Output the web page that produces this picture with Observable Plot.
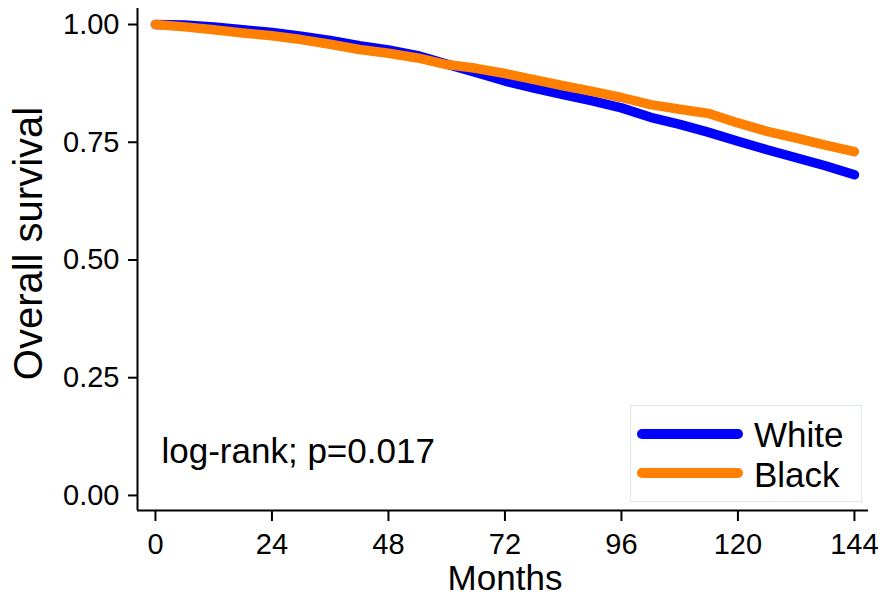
<!DOCTYPE html>
<html><head><meta charset="utf-8">
<script src="https://cdn.jsdelivr.net/npm/d3@7"></script>
<script src="https://cdn.jsdelivr.net/npm/@observablehq/plot@0.6"></script>
<style>
body{margin:0;background:#fff;font-family:"Liberation Sans",Arial,sans-serif;}
#wrap{position:relative;width:886px;height:598px;}
#legend{position:absolute;left:630px;top:405px;width:232px;height:97px;border:1px solid #dce8ea;box-sizing:border-box;background:#fff;}
.lline{position:absolute;left:6px;width:106px;height:10px;border-radius:5px;}
.ltext{position:absolute;left:123px;font-size:35px;line-height:35px;color:#000;white-space:nowrap;}
</style></head>
<body><div id="wrap"></div>
<script>
const months = [0,6,12,18,24,30,36,42,48,54,60,66,72,78,84,90,96,102,108,114,120,126,132,138,144];
const whiteSurv = [1.000,0.999,0.995,0.989,0.983,0.975,0.966,0.955,0.946,0.934,0.916,0.898,0.880,0.865,0.851,0.838,0.823,0.803,0.788,0.771,0.752,0.734,0.717,0.700,0.681];
const blackSurv = [1.000,0.995,0.989,0.982,0.976,0.968,0.958,0.947,0.939,0.929,0.915,0.907,0.896,0.883,0.870,0.858,0.845,0.830,0.820,0.811,0.791,0.773,0.759,0.744,0.730];
const groups = ["White","Black"];
const colors = ["#0000ff","#ff7f00"];
const xTicks = [0,24,48,72,96,120,144];
const xTickLabels = ["0","24","48","72","96","120","144"];
const yTicks = [0,0.25,0.5,0.75,1];
const yTickLabels = ["0.00","0.25","0.50","0.75","1.00"];
const xTitle = "Months";
const yTitle = "Overall survival";
const annotation = "log-rank; p=0.017";

const series = [whiteSurv, blackSurv];
const data = groups.flatMap((g, gi) => months.map((m, i) => ({group: g, month: m, surv: series[gi][i]})));

const xDomain = [-3.7, 146.9];
const yDomain = [-0.032, 1.034];
const font = "'Liberation Sans', Arial, sans-serif";

const chart = Plot.plot({
  width: 886, height: 598,
  marginLeft: 137, marginRight: 18, marginTop: 8, marginBottom: 88,
  x: {domain: xDomain},
  y: {domain: yDomain},
  color: {type: "categorical", domain: groups, range: colors},
  style: {fontFamily: font, background: "white", color: "black", overflow: "visible"},
  marks: [
    Plot.ruleX([xDomain[0]], {stroke: "black", strokeWidth: 2}),
    Plot.ruleY([yDomain[0]], {stroke: "black", strokeWidth: 2}),
    Plot.axisX(xTicks, {tickSize: 11, tickPadding: 12, fontSize: 29, strokeWidth: 2, label: null,
      tickFormat: d => xTickLabels[xTicks.indexOf(d)]}),
    Plot.axisY(yTicks, {tickSize: 9, tickPadding: 9, fontSize: 29, strokeWidth: 2, label: null,
      tickFormat: d => yTickLabels[yTicks.indexOf(d)]}),
    Plot.line(data, {x: "month", y: "surv", z: "group", stroke: {value: "group", scale: "color"}, strokeWidth: 9.5,
      strokeLinecap: "round", strokeLinejoin: "round"}),
    Plot.text([xTitle], {frameAnchor: "bottom", lineAnchor: "top", textAnchor: "middle", dx: 2, dy: 55, fontSize: 35, fill: "black"}),
    Plot.text([yTitle], {frameAnchor: "left", rotate: -90, lineAnchor: "middle", textAnchor: "middle", dx: -108, dy: -16, fontSize: 40, fill: "black"}),
    Plot.text([annotation], {frameAnchor: "bottom-left", lineAnchor: "middle", textAnchor: "start", dx: 24, dy: -59, fontSize: 35, fill: "black"})
  ]
});
const wrap = document.getElementById("wrap");
wrap.appendChild(chart);

const legend = document.createElement("div");
legend.id = "legend";
const lineTops = [23, 62];
const textTops = [11, 51];
groups.forEach((g, i) => {
  const l = document.createElement("div");
  l.className = "lline";
  l.style.top = lineTops[i] + "px";
  l.style.background = colors[i];
  legend.appendChild(l);
  const t = document.createElement("div");
  t.className = "ltext";
  t.style.top = textTops[i] + "px";
  t.textContent = g;
  legend.appendChild(t);
});
wrap.appendChild(legend);
</script>
</body></html>
